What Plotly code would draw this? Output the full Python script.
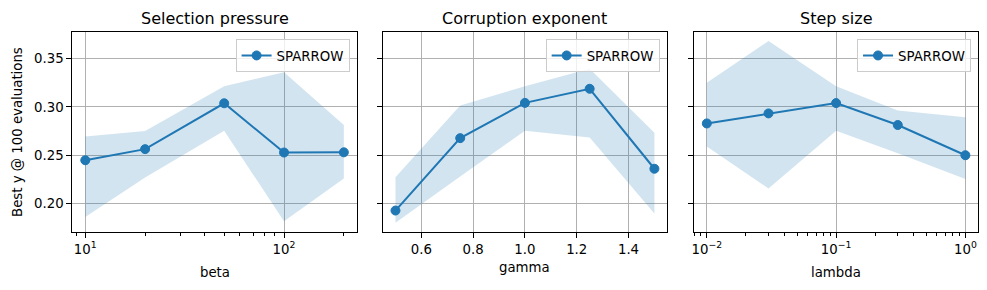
import plotly.graph_objects as go

# ---- data ----
beta = [10, 20, 50, 100, 200]
beta_mean = [0.2448, 0.2563, 0.3038, 0.2528, 0.2530]
beta_upper = [0.2694, 0.2750, 0.3215, 0.3360, 0.2813]
beta_lower = [0.1860, 0.2270, 0.2753, 0.1816, 0.2260]

gamma = [0.5, 0.75, 1.0, 1.25, 1.5]
gamma_mean = [0.1927, 0.2677, 0.3042, 0.3188, 0.2360]
gamma_upper = [0.2271, 0.3014, 0.3215, 0.3396, 0.2732]
gamma_lower = [0.1802, 0.2280, 0.2753, 0.2684, 0.1896]

lam = [0.01, 0.03, 0.1, 0.3, 1.0]
lam_mean = [0.2829, 0.2933, 0.3040, 0.2813, 0.2500]
lam_upper = [0.3250, 0.3683, 0.3215, 0.2962, 0.2892]
lam_lower = [0.2590, 0.2156, 0.2753, 0.2520, 0.2253]

titles = ["Selection pressure", "Corruption exponent", "Step size"]
xlabels = ["beta", "gamma", "lambda"]
ylabel = "Best y @ 100 evaluations"
series_name = "SPARROW"

yticks = [0.20, 0.25, 0.30, 0.35]
gamma_ticks = [0.6, 0.8, 1.0, 1.2, 1.4]
beta_ticks = [10, 100]
beta_ticktext = ["10<sup>1</sup>", "10<sup>2</sup>"]
beta_minor = [9, 20, 30, 40, 50, 60, 70, 80, 90, 200]
lam_ticks = [0.01, 0.1, 1.0]
lam_ticktext = ["10<sup>\u22122</sup>", "10<sup>\u22121</sup>", "10<sup>0</sup>"]
lam_minor = [0.008, 0.009, 0.02, 0.03, 0.04, 0.05, 0.06, 0.07, 0.08, 0.09,
             0.2, 0.3, 0.4, 0.5, 0.6, 0.7, 0.8, 0.9]

# ---- style ----
W, H = 987, 290
BLUE = "#1f77b4"
FILL = "rgba(31,119,180,0.2)"
FONT = "DejaVu Sans"
domains_px = [(70.5, 355.5), (381.3, 666.7), (693.3, 978.3)]
top_px, bot_px = 32, 232
legend_right_px = [348.3, 659.0, 971.0]
legend_top_px = 39.3

def px_x(p):
    return p / W

def px_y(p):
    return 1 - p / H

fig = go.Figure()

panels = [
    (beta, beta_mean, beta_upper, beta_lower),
    (gamma, gamma_mean, gamma_upper, gamma_lower),
    (lam, lam_mean, lam_upper, lam_lower),
]

for i, (xs, m, up, lo) in enumerate(panels):
    sfx = "" if i == 0 else str(i + 1)
    leg = "legend" if i == 0 else "legend" + str(i + 1)
    fig.add_trace(go.Scatter(
        x=list(xs) + list(xs)[::-1],
        y=list(up) + list(lo)[::-1],
        fill="toself", fillcolor=FILL, line=dict(width=0),
        mode="lines", showlegend=False, hoverinfo="skip",
        xaxis="x" + sfx, yaxis="y" + sfx,
    ))
    fig.add_trace(go.Scatter(
        x=xs, y=m, mode="lines+markers", name=series_name,
        line=dict(color=BLUE, width=2),
        marker=dict(color=BLUE, size=9, line=dict(color=BLUE, width=1)),
        xaxis="x" + sfx, yaxis="y" + sfx, legend=leg,
    ))

common_axis = dict(
    showline=True, linecolor="black", linewidth=1, mirror=True,
    ticks="outside", ticklen=5, tickwidth=1, tickcolor="black",
    showgrid=True, gridcolor="#b0b0b0", gridwidth=1, zeroline=False,
    tickfont=dict(family=FONT, size=13.3, color="black"),
)

ydom = [px_y(bot_px), px_y(top_px)]
yrange = [0.1705, 0.3776]

layout = dict(
    width=W, height=H,
    margin=dict(l=0, r=0, t=0, b=0),
    paper_bgcolor="white", plot_bgcolor="white",
    font=dict(family=FONT, size=13.3, color="black"),
)

# x axes
layout["xaxis"] = dict(common_axis, domain=[px_x(domains_px[0][0]), px_x(domains_px[0][1])],
                       type="log", range=[0.93495, 2.36608], anchor="y",
                       tickvals=beta_ticks, ticktext=beta_ticktext,
                       minor=dict(tickvals=beta_minor, ticks="outside", ticklen=3,
                                  tickwidth=1, tickcolor="black", showgrid=False))
layout["xaxis2"] = dict(common_axis, domain=[px_x(domains_px[1][0]), px_x(domains_px[1][1])],
                        range=[0.45, 1.55], anchor="y2",
                        tickvals=gamma_ticks, tickformat=".1f")
layout["xaxis3"] = dict(common_axis, domain=[px_x(domains_px[2][0]), px_x(domains_px[2][1])],
                        type="log", range=[-2.1, 0.1], anchor="y3",
                        tickvals=lam_ticks, ticktext=lam_ticktext,
                        minor=dict(tickvals=lam_minor, ticks="outside", ticklen=3,
                                   tickwidth=1, tickcolor="black", showgrid=False))
# y axes
for i in range(3):
    sfx = "" if i == 0 else str(i + 1)
    layout["yaxis" + sfx] = dict(common_axis, domain=ydom, range=yrange,
                                 anchor="x" + sfx, tickvals=yticks, tickformat=".2f",
                                 showticklabels=(i == 0))

# legends
for i in range(3):
    key = "legend" if i == 0 else "legend" + str(i + 1)
    layout[key] = dict(
        x=px_x(legend_right_px[i]), xanchor="right",
        y=px_y(legend_top_px), yanchor="top",
        bgcolor="rgba(255,255,255,0.8)", bordercolor="#cccccc", borderwidth=1,
        font=dict(family=FONT, size=13.3, color="black"),
    )

fig.update_layout(**layout)

# titles and axis labels
annots = []
for i in range(3):
    cx = px_x((domains_px[i][0] + domains_px[i][1]) / 2)
    annots.append(dict(text=titles[i], x=cx, y=px_y(18), xref="paper", yref="paper",
                       xanchor="center", yanchor="middle", showarrow=False,
                       font=dict(family=FONT, size=16, color="black")))
xlabel_y = [272, 267, 272]
for i in range(3):
    cx = px_x((domains_px[i][0] + domains_px[i][1]) / 2)
    annots.append(dict(text=xlabels[i], x=cx, y=px_y(xlabel_y[i]), xref="paper", yref="paper",
                       xanchor="center", yanchor="middle", showarrow=False,
                       font=dict(family=FONT, size=13.3, color="black")))
annots.append(dict(text=ylabel, x=px_x(15), y=px_y(132), xref="paper", yref="paper",
                   xanchor="center", yanchor="middle", textangle=-90, showarrow=False,
                   font=dict(family=FONT, size=13.3, color="black")))
fig.update_layout(annotations=annots)

fig.write_html("out.html")
